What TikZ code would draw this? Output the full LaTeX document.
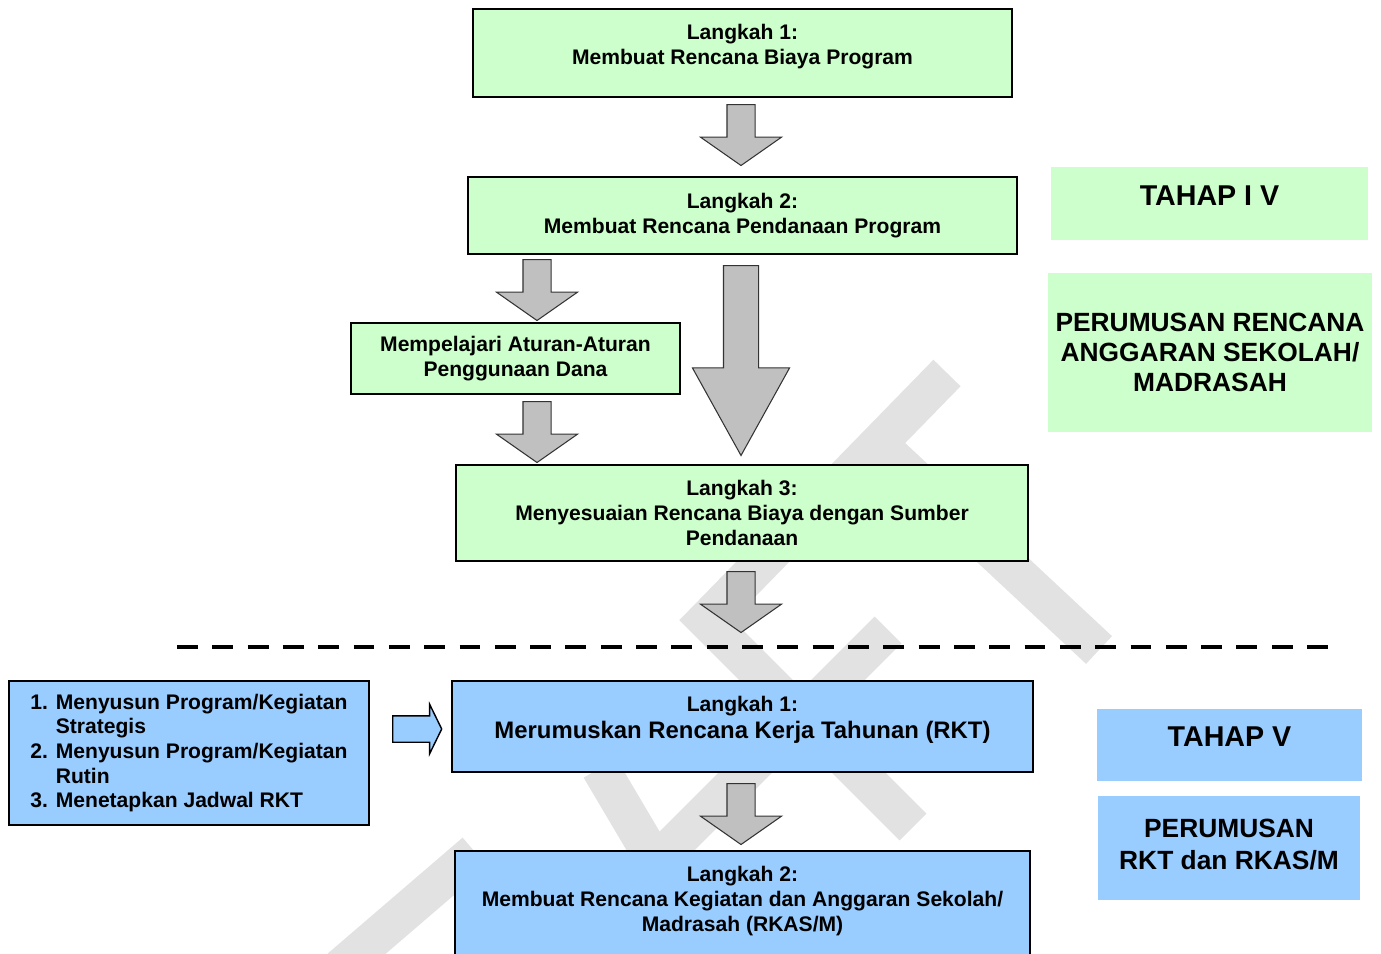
\documentclass[tikz,border=0pt]{standalone}
\usepackage{fontspec}
\setmainfont{Liberation Sans}
\usetikzlibrary{shapes.arrows}

\definecolor{stepgreen}{HTML}{CCFFCC}
\definecolor{stepblue}{HTML}{99CCFF}
\definecolor{arrowgray}{HTML}{C0C0C0}
\definecolor{wmgray}{HTML}{E2E2E2}

\begin{document}
\begin{tikzpicture}[
            x=0.02cm, y=-0.02cm,
            box/.style={rectangle, draw, line width=1.1pt, align=center, inner sep=0pt, font=\fontsize{12}{14.2}\selectfont\bfseries},
            greenbox/.style={box, fill=stepgreen},
            bluebox/.style={box, fill=stepblue},
            tahap/.style={rectangle, align=center, inner sep=0pt, font=\fontsize{15}{17}\selectfont\bfseries},
            downarrow/.style={single arrow, shape border rotate=270, anchor=tail, draw=black!80, line width=0.6pt, fill=arrowgray, inner sep=0.27cm, minimum width=1.6cm, minimum height=1.22cm, single arrow tip angle=110, single arrow head extend=0.53cm},
            bigarrow/.style={downarrow, inner sep=0.34cm, minimum width=1.92cm, minimum height=3.8cm, single arrow tip angle=58, single arrow head extend=0.62cm},
            rightarrow/.style={single arrow, anchor=tail, draw, line width=0.8pt, fill=stepblue, inner sep=0.25cm, minimum width=0.96cm, minimum height=0.98cm, single arrow tip angle=128, single arrow head extend=0.23cm},
            dashline/.style={line width=2.8pt, dash pattern=on 11.9pt off 8.2pt},
            wmark/.style={line width=0.76cm, wmgray}
            ]

            \clip (0,0) rectangle (1381,953);

            % Watermark
            \draw[wmark] (947,373) -- (706,620) -- (913,827);
            \draw[wmark] (872,438) -- (1099,650);
            \draw[wmark] (888,630) -- (660,858);
            \draw[wmark] (600,768) -- (652,856);
            \draw[wmark] (340,968) -- (475,852);

            % Tahap IV steps
            \node[greenbox, minimum width=10.78cm, minimum height=1.76cm, text depth=9.3pt] (biaya) at (742.5,53) {Langkah 1:\\Membuat Rencana Biaya Program};
            \node[greenbox, minimum width=10.98cm, minimum height=1.54cm] (pendanaan) at (742.5,215.5) {Langkah 2:\\Membuat Rencana Pendanaan Program};
            \node[greenbox, minimum width=6.58cm, minimum height=1.42cm] (aturan) at (515.5,358.5) {Mempelajari Aturan-Aturan\\Penggunaan Dana};
            \node[greenbox, minimum width=11.44cm, minimum height=1.92cm] (sesuai) at (742,513) {Langkah 3:\\Menyesuaian Rencana Biaya dengan Sumber\\Pendanaan};

            % Tahap IV labels
            \node[tahap, fill=stepgreen, minimum width=6.34cm, minimum height=1.46cm, font=\fontsize{16.3}{18}\selectfont\bfseries, text depth=9pt] (tahap4) at (1209.5,203.5) {TAHAP I V};
            \node[tahap, fill=stepgreen, minimum width=6.48cm, minimum height=3.18cm] (judul4) at (1210,352.5) {PERUMUSAN RENCANA\\ANGGARAN SEKOLAH/\\MADRASAH};

            % Arrows Tahap IV
            \node[downarrow] (a1) at (741,104) {};
            \node[downarrow] (a2) at (537,259) {};
            \node[downarrow] (a3) at (537,401) {};
            \node[bigarrow] (a4) at (741,265) {};
            \node[downarrow] (a5) at (741,571) {};

            % Separator
            \coordinate (sepl) at (177,647);
            \coordinate (sepr) at (1336,647);
            \draw[dashline] (sepl) -- (sepr);

            % Tahap V steps
            \node[bluebox, minimum width=7.2cm, minimum height=2.88cm, align=left, font=\fontsize{12}{14}\selectfont\bfseries] (rincian) at (189,753) {1. Menyusun Program/Kegiatan\\\hphantom{1. }Strategis\\2. Menyusun Program/Kegiatan\\\hphantom{2. }Rutin\\3. Menetapkan Jadwal RKT};
            \node[bluebox, minimum width=11.62cm, minimum height=1.82cm, text depth=10.3pt] (rkt) at (742.5,726.5) {Langkah 1:\\[1pt]{\fontsize{13.6}{15}\selectfont Merumuskan Rencana Kerja Tahunan (RKT)}};
            \node[bluebox, minimum width=11.5cm, minimum height=2.48cm, text depth=16.1pt] (rkas) at (742.5,913) {Langkah 2:\\Membuat Rencana Kegiatan dan Anggaran Sekolah/\\Madrasah (RKAS/M)};

            % Tahap V labels
            \node[tahap, fill=stepblue, minimum width=5.3cm, minimum height=1.44cm, font=\fontsize{16.3}{18}\selectfont\bfseries, text depth=10pt] (tahap5) at (1229.5,745) {TAHAP V};
            \node[tahap, fill=stepblue, minimum width=5.24cm, minimum height=2.08cm, font=\fontsize{15}{18}\selectfont\bfseries, text depth=4pt] (judul5) at (1229,848) {PERUMUSAN\\RKT dan RKAS/M};

            % Arrows Tahap V
            \node[rightarrow] (a6) at (392,729) {};
            \node[downarrow] (a7) at (741,783) {};

        \end{tikzpicture}
\end{document}
